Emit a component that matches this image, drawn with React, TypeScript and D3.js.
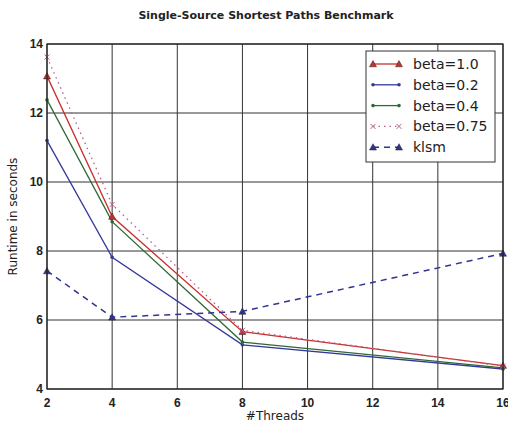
import React from "react";
import * as d3 from "d3";

const threads = [2, 4, 8, 16];
const beta10 = [13.07, 9.0, 5.66, 4.68];
const beta02 = [11.2, 7.82, 5.28, 4.58];
const beta04 = [12.38, 8.85, 5.36, 4.61];
const beta075 = [13.62, 9.35, 5.7, 4.66];
const klsm = [7.42, 6.08, 6.25, 7.93];
const xTicks = [2, 4, 6, 8, 10, 12, 14, 16];
const yTicks = [4, 6, 8, 10, 12, 14];

type Series = {
  name: string;
  values: number[];
  color: string;
  dash?: string;
  marker: "tri" | "dot" | "x";
  width: number;
};

const series: Series[] = [
  { name: "beta=1.0", values: beta10, color: "#c8302c", marker: "tri", width: 1.3 },
  { name: "beta=0.2", values: beta02, color: "#34389a", marker: "dot", width: 1.3 },
  { name: "beta=0.4", values: beta04, color: "#2e6a36", marker: "dot", width: 1.3 },
  { name: "beta=0.75", values: beta075, color: "#b8608e", dash: "1.5,4", marker: "x", width: 1.3 },
  { name: "klsm", values: klsm, color: "#2e3490", dash: "6,5", marker: "tri", width: 1.5 },
];

const L = 47, R = 503, T = 44, B = 389;

function Marker({ kind, x, y, color }: { kind: string; x: number; y: number; color: string }) {
  if (kind === "tri") {
    const s = 3.5;
    return <path d={`M${x},${y - s}L${x + s},${y + s * 0.8}L${x - s},${y + s * 0.8}Z`} fill={color} stroke="#222" strokeWidth={0.5} />;
  }
  if (kind === "dot") {
    return <circle cx={x} cy={y} r={1.8} fill={color} />;
  }
  const s = 2.5;
  return (
    <path d={`M${x - s},${y - s}L${x + s},${y + s}M${x - s},${y + s}L${x + s},${y - s}`} stroke={color} strokeWidth={1} />
  );
}

export default function App() {
  const x = d3.scaleLinear().domain([2, 16]).range([L, R]);
  const y = d3.scaleLinear().domain([4, 14]).range([B, T]);
  const line = d3
    .line<number>()
    .x((_, i) => x(threads[i]))
    .y((d) => y(d));

  const legX = 366, legY = 51, legW = 129, legH = 111;

  return (
    <svg width={508} height={425} style={{ position: "absolute", left: 0, top: 0, background: "#fff" }}>
      <defs>
        <clipPath id="plot">
          <rect x={L} y={T} width={R - L} height={B - T} />
        </clipPath>
      </defs>
      <text x={266} y={19} textAnchor="middle" fontFamily="DejaVu Sans" fontWeight="bold" fontSize={11} fill="#222">
        Single-Source Shortest Paths Benchmark
      </text>
      {xTicks.map((t) => (
        <line key={"gx" + t} x1={x(t)} x2={x(t)} y1={T} y2={B} stroke="#333" strokeWidth={1} />
      ))}
      {yTicks.map((t) => (
        <line key={"gy" + t} x1={L} x2={R} y1={y(t)} y2={y(t)} stroke="#333" strokeWidth={1} />
      ))}
      <g clipPath="url(#plot)">
        {series.map((s) => (
          <path key={s.name} d={line(s.values) || ""} fill="none" stroke={s.color} strokeWidth={s.width} strokeDasharray={s.dash} />
        ))}
      </g>
      {series.map((s) =>
        s.values.map((v, i) => <Marker key={s.name + i} kind={s.marker} x={x(threads[i])} y={y(v)} color={s.color} />)
      )}
      <rect x={L} y={T} width={R - L} height={B - T} fill="none" stroke="#222" strokeWidth={1.2} />
      {xTicks.map((t) => (
        <text key={"tx" + t} x={x(t)} y={407} textAnchor="middle" fontFamily="Liberation Sans" fontWeight="bold" fontSize={12} fill="#222">
          {t}
        </text>
      ))}
      {yTicks.map((t) => (
        <text key={"ty" + t} x={L - 4} y={y(t) + 4} textAnchor="end" fontFamily="Liberation Sans" fontWeight="bold" fontSize={12} fill="#222">
          {t}
        </text>
      ))}
      <text x={275} y={420} textAnchor="middle" fontFamily="DejaVu Sans" fontSize={12} fill="#222">
        #Threads
      </text>
      <text transform={`translate(17,${(T + B) / 2}) rotate(-90)`} textAnchor="middle" fontFamily="DejaVu Sans" fontSize={12} fill="#222">
        Runtime in seconds
      </text>
      <rect x={legX} y={legY} width={legW} height={legH} fill="#fff" stroke="#333" strokeWidth={1} />
      {series.map((s, i) => {
        const yy = 64 + i * 20.8;
        return (
          <g key={"leg" + s.name}>
            <line x1={373} x2={399} y1={yy} y2={yy} stroke={s.color} strokeWidth={s.width} strokeDasharray={s.dash} />
            <Marker kind={s.marker} x={373} y={yy} color={s.color} />
            <Marker kind={s.marker} x={399} y={yy} color={s.color} />
            <text x={413} y={yy + 5} fontFamily="DejaVu Sans" fontSize={14} fill="#222">
              {s.name}
            </text>
          </g>
        );
      })}
    </svg>
  );
}
